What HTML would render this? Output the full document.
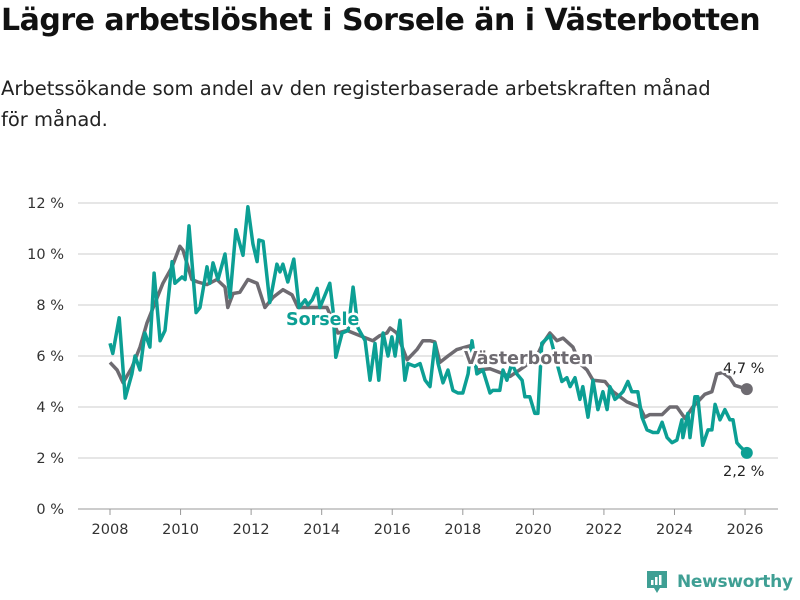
<!DOCTYPE html>
<html><head><meta charset="utf-8">
<style>
html,body{margin:0;padding:0;background:#fff;}
body{width:800px;height:600px;position:relative;overflow:hidden;font-family:"DejaVu Sans","Liberation Sans",sans-serif;color:#111;}
h1{position:absolute;left:1px;top:3px;margin:0;font-size:30px;font-weight:bold;letter-spacing:-0.5px;white-space:nowrap;}
.sub{position:absolute;left:1px;top:73px;margin:0;font-size:19.5px;line-height:31px;color:#222;width:790px;}
svg{position:absolute;left:0;top:0;}
</style></head>
<body>
<h1>Lägre arbetslöshet i Sorsele än i Västerbotten</h1>
<p class="sub">Arbetssökande som andel av den registerbaserade arbetskraften månad<br>för månad.</p>
<svg id="chart" width="800" height="600"></svg>
<script>
const yTicks=[0,2,4,6,8,10,12];
const xTicks=[2008,2010,2012,2014,2016,2018,2020,2022,2024,2026];
const vbYears=[2008.0,2008.2,2008.37,2008.62,2008.85,2009.05,2009.28,2009.5,2009.76,2009.98,2010.07,2010.32,2010.49,2010.75,2011.03,2011.26,2011.34,2011.49,2011.68,2011.91,2012.17,2012.39,2012.62,2012.9,2013.16,2013.33,2013.75,2014.15,2014.46,2014.72,2015.08,2015.45,2015.65,2015.85,2015.94,2016.13,2016.42,2016.7,2016.87,2017.07,2017.21,2017.35,2017.58,2017.83,2018.2,2018.4,2018.77,2019.34,2019.76,2020.1,2020.27,2020.47,2020.67,2020.84,2021.12,2021.32,2021.52,2021.69,2022.03,2022.26,2022.65,2023.02,2023.16,2023.3,2023.65,2023.87,2024.07,2024.3,2024.52,2024.86,2025.06,2025.2,2025.37,2025.57,2025.71,2026.05];
const vbValues=[5.75,5.45,4.95,5.55,6.35,7.3,8.1,8.85,9.5,10.3,10.15,9.0,8.9,8.8,9.0,8.7,7.9,8.45,8.5,9.0,8.85,7.9,8.3,8.6,8.4,7.9,7.9,7.9,6.9,7.0,6.8,6.6,6.8,6.9,7.1,6.9,5.85,6.25,6.6,6.6,6.55,5.75,6.0,6.25,6.4,5.45,5.5,5.2,5.6,6.0,6.5,6.9,6.6,6.7,6.35,5.7,5.45,5.05,5.0,4.6,4.2,4.0,3.6,3.7,3.7,4.0,4.0,3.55,4.0,4.5,4.6,5.3,5.35,5.15,4.85,4.7];
const soYears=[2008.0,2008.08,2008.26,2008.43,2008.62,2008.71,2008.85,2008.99,2009.13,2009.25,2009.42,2009.56,2009.76,2009.84,2010.04,2010.13,2010.24,2010.44,2010.55,2010.75,2010.83,2010.92,2011.06,2011.26,2011.4,2011.57,2011.77,2011.91,2012.05,2012.17,2012.22,2012.34,2012.53,2012.73,2012.82,2012.9,2013.04,2013.21,2013.36,2013.53,2013.61,2013.73,2013.87,2013.95,2014.23,2014.32,2014.4,2014.58,2014.75,2014.89,2015.03,2015.23,2015.37,2015.51,2015.62,2015.74,2015.88,2015.99,2016.08,2016.22,2016.36,2016.45,2016.64,2016.79,2016.93,2017.07,2017.21,2017.3,2017.44,2017.58,2017.72,2017.86,2018.0,2018.15,2018.26,2018.4,2018.57,2018.77,2018.85,2019.05,2019.14,2019.25,2019.39,2019.53,2019.68,2019.76,2019.9,2020.04,2020.13,2020.24,2020.47,2020.7,2020.81,2020.95,2021.04,2021.18,2021.32,2021.4,2021.55,2021.69,2021.83,2021.97,2022.09,2022.17,2022.31,2022.4,2022.54,2022.68,2022.79,2022.96,2023.08,2023.22,2023.39,2023.53,2023.65,2023.79,2023.93,2024.07,2024.21,2024.24,2024.38,2024.44,2024.58,2024.66,2024.8,2024.95,2025.06,2025.15,2025.29,2025.43,2025.57,2025.66,2025.77,2025.86,2026.05];
const soValues=[6.5,6.1,7.5,4.35,5.3,6.0,5.45,6.9,6.35,9.25,6.6,7.0,9.7,8.85,9.1,9.0,11.1,7.7,7.9,9.5,8.85,9.65,9.0,10.0,8.3,10.95,9.95,11.85,10.4,9.7,10.55,10.5,8.1,9.6,9.3,9.6,8.9,9.8,7.9,8.2,8.0,8.2,8.65,7.9,8.85,7.8,5.95,6.9,7.0,8.7,7.1,6.6,5.05,6.5,5.05,6.9,6.0,6.75,6.0,7.4,5.05,5.7,5.6,5.7,5.05,4.8,6.5,5.7,4.95,5.45,4.65,4.55,4.55,5.3,6.6,5.3,5.45,4.55,4.65,4.65,5.45,5.05,5.7,5.3,5.05,4.4,4.4,3.75,3.75,6.5,6.8,5.55,5.0,5.15,4.8,5.15,4.3,4.8,3.6,5.05,3.9,4.6,3.9,4.8,4.3,4.4,4.6,5.0,4.6,4.6,3.6,3.1,3.0,3.0,3.4,2.8,2.6,2.7,3.5,2.8,3.75,2.8,4.4,4.4,2.5,3.1,3.1,4.1,3.5,3.9,3.5,3.5,2.6,2.45,2.2];

const NS="http://www.w3.org/2000/svg";
const svg=document.getElementById('chart');
const FONT='DejaVu Sans, Liberation Sans, sans-serif';
const X=y=>110+(y-2008)*35.28;
const Y=v=>509-v*25.5;
function mk(tag,attrs,parent){const e=document.createElementNS(NS,tag);for(const k in attrs)e.setAttribute(k,attrs[k]);(parent||svg).appendChild(e);return e;}
yTicks.forEach(t=>{
  const g=mk('line',{x1:78,x2:778,y1:Y(t),y2:Y(t),stroke:t===0?'#bbb':'#ddd','stroke-width':1.5});
  
  
  const tx=mk('text',{x:64,y:Y(t)+5,'text-anchor':'end','font-size':14.5,fill:'#333','font-family':FONT});
  tx.textContent=t+' %';
  
  
});
xTicks.forEach(t=>{
  const l=mk('line',{x1:X(t),x2:X(t),y1:509,y2:515,stroke:'#999','stroke-width':1});
  
  
  const tx=mk('text',{x:X(t),y:534,'text-anchor':'middle','font-size':14.5,fill:'#333','font-family':FONT});
  tx.textContent=t;
  
  
});
function line(xs,vs,color,name){
  const d=xs.map((x,i)=>(i?'L':'M')+X(x).toFixed(1)+','+Y(vs[i]).toFixed(1)).join(' ');
  const p=mk('path',{d:d,fill:'none',stroke:color,'stroke-width':3.5,'stroke-linejoin':'round'});
  
  
  const c=mk('circle',{cx:X(xs[xs.length-1]),cy:Y(vs[vs.length-1]),r:6,fill:color});
  
  
}
line(vbYears,vbValues,'#6e6b71','vasterbotten-line');
line(soYears,soValues,'#0c9f94','sorsele-line');
function label(txt,x,y,color,name,size,bold,halo){
  const t=mk('text',{x:x,y:y,fill:color,'font-size':size,'font-weight':bold?'bold':'normal','font-family':FONT});
  if(halo){t.setAttribute('stroke','#fff');t.setAttribute('stroke-width',5);t.setAttribute('paint-order','stroke');t.setAttribute('stroke-linejoin','round');}
  t.textContent=txt;
  
  
}
label('Sorsele',286,325,'#0c9f94','sorsele-label',17.5,true,true);
label('Västerbotten',464,364,'#6e6b71','vasterbotten-label',17.5,true,true);
label('4,7 %',723,373,'#222','vasterbotten-end-value',14.5,false,true);
label('2,2 %',723,476,'#222','sorsele-end-value',14.5,false,true);
</script>
<div style="position:absolute;left:645px;top:569px;height:26px;display:flex;align-items:center;">
  <svg width="24" height="26" style="position:static"><path d="M2 2h20v17h-7l-3 5-3-5H2z" fill="#3f9f94"/><rect x="6" y="11" width="2.5" height="5" fill="#fff"/><rect x="10" y="8" width="2.5" height="8" fill="#fff"/><rect x="14" y="6" width="2.5" height="10" fill="#fff"/></svg>
  <span style="font-size:17px;font-weight:bold;color:#3f9f94;margin-left:8px;letter-spacing:-0.3px;font-family:'DejaVu Sans',sans-serif;">Newsworthy</span>
</div>
</body></html>
